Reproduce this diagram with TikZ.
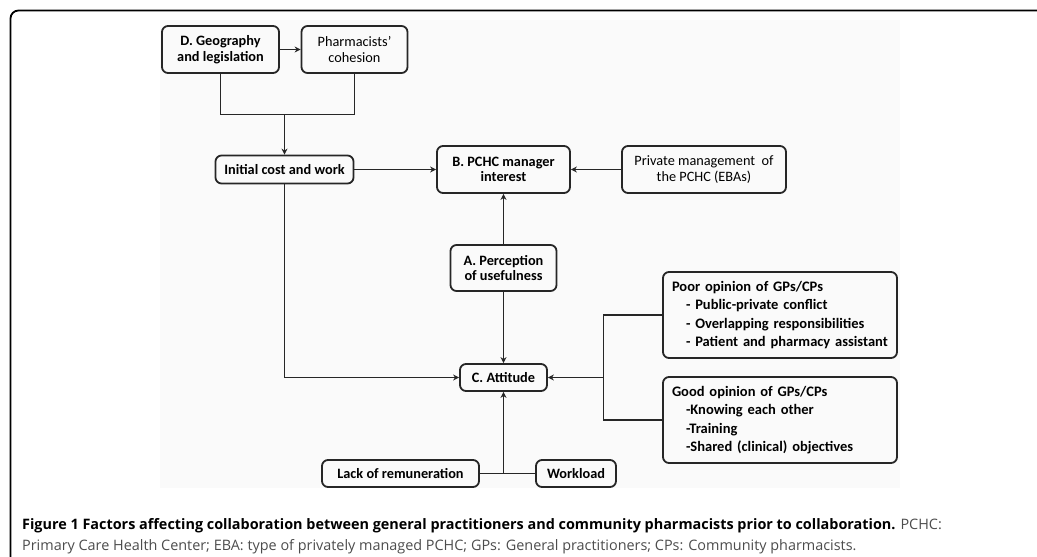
\documentclass[tikz,border=0pt]{standalone}
\usepackage{fontspec}
\setmainfont{Carlito}
\newfontfamily\capfont{Open Sans}
\usepackage{tikz}
\usetikzlibrary{arrows.meta, positioning}

\tikzset{
  factor/.style={draw=black!85, rounded corners=6pt, line width=1.8pt, inner sep=0pt,
                 align=center, font=\bfseries\fontsize{14.3}{15.5}\selectfont},
  opinion/.style={factor, align=left, text width=216pt, minimum width=234pt,
                  minimum height=86pt, font=\bfseries\fontsize{14.5}{18.3}\selectfont},
  link/.style={draw=black!85, line width=1.8pt},
  flow/.style={link, -{Stealth[length=6pt,width=6pt]}}
}

\begin{document}
\begin{tikzpicture}[x=1pt, y=-1pt]
    \useasboundingbox (0,0) rectangle (1037,557);
    \fill[black!2] (160,20) rectangle (900,488);
    \draw[line width=1.8pt, rounded corners=8pt] (1037,10.5) -| (10.5,557);
    % boxes
    \node[factor, minimum width=117pt, minimum height=47pt] (D) at (220.5,49.5) {D. Geography\\and legislation};
    \node[factor, minimum width=106pt, minimum height=47pt, font=\fontsize{14.3}{15.5}\selectfont] (P) at (354.5,49.5) {Pharmacists'\\cohesion};
    \node[factor, minimum width=138pt, minimum height=28pt] (I) at (284.5,169.5) {Initial cost and work};
    \node[factor, minimum width=133pt, minimum height=47pt] (B) at (503.5,169.5) {B. PCHC manager\\interest};
    \node[factor, minimum width=164pt, minimum height=47pt, font=\fontsize{14.3}{15.5}\selectfont] (M) at (704,169.5) {Private management\ \ of\\the PCHC (EBAs)};
    \node[factor, minimum width=106pt, minimum height=46pt] (A) at (503.5,268) {A. Perception\\of usefulness};
    \node[factor, minimum width=87pt, minimum height=27pt] (C) at (503.5,377.5) {C. Attitude};
    \node[factor, minimum width=157pt, minimum height=27pt] (L) at (400.5,473.5) {Lack of remuneration};
    \node[factor, minimum width=80pt, minimum height=27pt] (W) at (576,473.5) {Workload};
    \node[opinion] (poor) at (780,315) {Poor opinion of GPs/CPs\\
      \hspace*{14pt}- Public-private conflict\\
      \hspace*{14pt}- Overlapping responsibilities\\
      \hspace*{14pt}- Patient and pharmacy assistant};
    \node[opinion] (good) at (780,420) {Good opinion of GPs/CPs\\
      \hspace*{14pt}-Knowing each other\\
      \hspace*{14pt}-Training\\
      \hspace*{14pt}-Shared (clinical) objectives};
    \coordinate (join) at (284.5,114.5);
    \coordinate (fork) at (603.5,377.5);
    \coordinate (base) at (503.5,473.5);
    % connectors
    \draw[flow] (D) -- (P);
    \draw[link] (D.south) |- (join) -| (P.south);
    \draw[flow] (join) -- (I);
    \draw[flow] (I) -- (B);
    \draw[flow] (M) -- (B);
    \draw[flow] (A) -- (B);
    \draw[flow] (A) -- (C);
    \draw[flow] (I.south) |- (C.west);
    \draw[link] (poor.west) -| (fork) |- (good.west);
    \draw[flow] (fork) -- (C.east);
    \draw[link] (L) -- (W);
    \draw[flow] (base) -- (C.south);
    % caption
    \node[anchor=base west, inner sep=0pt, font=\capfont\fontsize{14.4}{16}\selectfont] (cap1) at (22,529)
      {\textbf{Figure 1 Factors affecting collaboration between general practitioners and community pharmacists prior to collaboration.} \textcolor{black!70}{PCHC:}};
    \node[anchor=base west, inner sep=0pt, font=\capfont\fontsize{14.4}{16}\selectfont, text=black!70] (cap2) at (22,550)
      {Primary Care Health Center; EBA: type of privately managed PCHC; GPs: General practitioners; CPs: Community pharmacists.};
\end{tikzpicture}
\end{document}
